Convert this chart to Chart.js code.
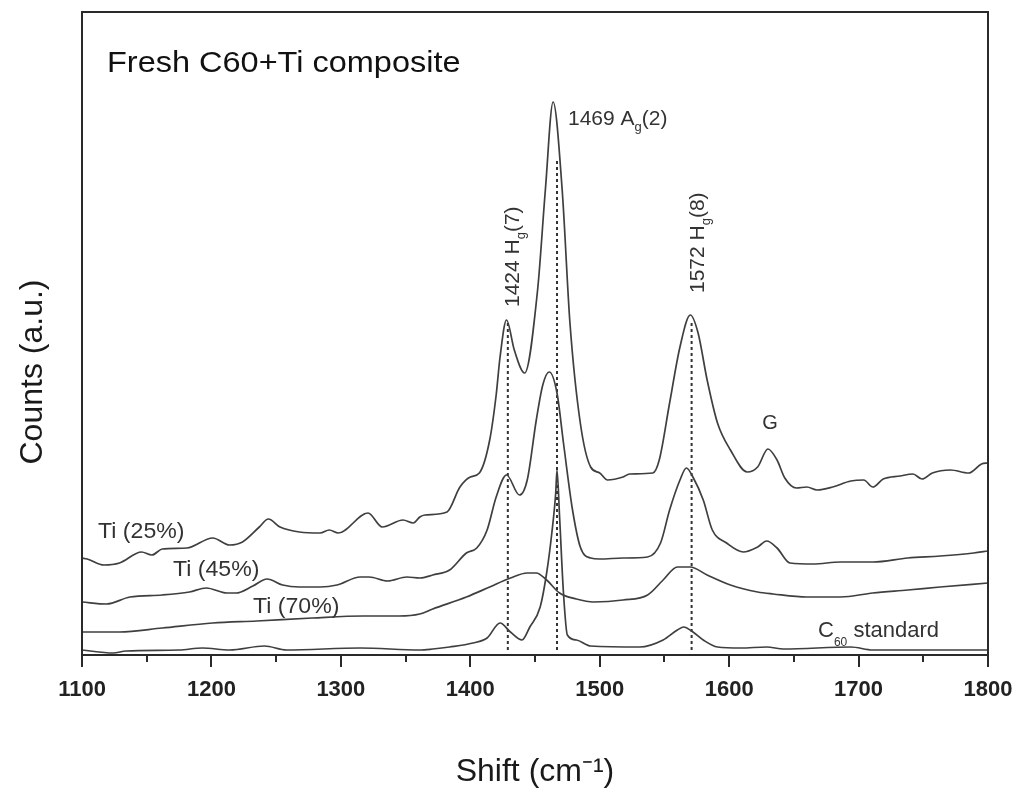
<!DOCTYPE html>
<html><head><meta charset="utf-8">
<script src="https://cdn.jsdelivr.net/npm/chart.js@4.4.1/dist/chart.umd.min.js"></script>
<style>html,body{margin:0;padding:0;background:#fff}#wrap{width:1018px;height:791px;position:relative}</style>
</head><body><div id="wrap"><canvas id="c"></canvas></div>
<script>
// ---- data (Raman shift in cm^-1, counts in a.u.) ----
const shiftTi25 = [1100,1104,1117,1129,1146,1154,1162,1181,1201,1214,1224,1237,1244,1253,1268,1284,1291,1298,1321,1332,1348,1356,1361,1365,1382,1392,1400,1407,1415,1420,1423,1428,1434,1442,1452,1458,1464,1471,1477,1485,1493,1500,1506,1518,1523,1541,1546,1554,1562,1570,1576,1583,1591,1601,1614,1622,1630,1637,1643,1652,1660,1668,1680,1694,1704,1711,1719,1732,1742,1749,1757,1771,1785,1795,1800];
const countsTi25 = [97,96,90,92,103,100,106,107,117,110,113,128,136,128,123,122,125,122,142,128,135,132,138,140,143,168,178,182,215,260,298,335,305,282,365,465,553,465,332,232,188,182,175,178,181,182,195,252,308,340,322,275,232,205,183,188,206,195,177,167,168,165,168,174,175,168,176,179,181,176,182,185,182,191,192];

const shiftTi45 = [1100,1119,1137,1162,1183,1196,1212,1219,1232,1243,1255,1268,1284,1297,1315,1322,1336,1351,1361,1371,1384,1397,1405,1413,1420,1428,1438,1444,1451,1456,1461,1467,1472,1479,1485,1493,1500,1518,1537,1547,1554,1562,1567,1572,1580,1587,1598,1611,1622,1629,1637,1647,1665,1686,1711,1738,1763,1789,1800];
const countsTi45 = [53,51,58,60,63,67,62,62,69,76,70,68,68,70,78,78,74,78,77,80,85,102,107,125,158,180,160,175,235,270,283,262,212,145,108,97,96,97,98,112,145,175,187,178,155,125,112,103,108,114,107,92,91,93,93,97,99,102,104];

const shiftTi70 = [1100,1129,1162,1201,1235,1278,1317,1345,1361,1371,1397,1415,1431,1444,1451,1459,1469,1482,1495,1518,1537,1549,1560,1570,1583,1601,1622,1634,1660,1686,1711,1738,1763,1800];
const countsTi70 = [23,23,27,32,34,37,39,39,41,46,58,68,77,82,82,75,62,56,53,55,60,75,88,88,80,70,63,61,58,58,62,65,68,72];

const shiftC60 = [1100,1124,1134,1175,1193,1214,1241,1258,1315,1361,1371,1384,1402,1413,1423,1431,1440,1446,1454,1459,1463,1466,1467,1469,1472,1475,1482,1493,1531,1549,1560,1565,1571,1580,1591,1609,1629,1642,1694,1711,1800];
const countsC60 = [5,2,4,5,7,5,9,5,7,5,6,8,12,17,32,23,15,28,48,82,122,162,185,138,62,20,15,9,8,15,25,28,24,15,8,7,8,6,8,5,5];

// peak markers (dashed lines): positions and heights
const peakShifts = [1429,1467,1571];
const peakTops = [332,495,333];
const peakBottom = 5;

const xTickValues = [1100,1200,1300,1400,1500,1600,1700,1800];

function pts(xs, ys){ return xs.map((x,i)=>({x:x, y:ys[i]})); }

const lineColor = '#3f3f3f';
const datasets = [
  {label:'Ti (25%)', data: pts(shiftTi25, countsTi25)},
  {label:'Ti (45%)', data: pts(shiftTi45, countsTi45)},
  {label:'Ti (70%)', data: pts(shiftTi70, countsTi70)},
  {label:'C60 standard', data: pts(shiftC60, countsC60)}
].map(d => Object.assign(d, {borderColor: lineColor, borderWidth: 1.7, pointRadius: 0, cubicInterpolationMode: 'monotone', fill: false}));

peakShifts.forEach((s,i) => {
  datasets.push({label:'peak '+s, data:[{x:s,y:peakBottom},{x:s,y:peakTops[i]}],
    borderColor:'#333', borderWidth:2, borderDash:[3,3], pointRadius:0, tension:0, fill:false});
});

function rich(ctx, parts){
  let x = 0;
  parts.forEach(p => {
    ctx.font = p.size + 'px "Liberation Sans", Arial, sans-serif';
    ctx.fillText(p.t, x, p.dy || 0);
    x += ctx.measureText(p.t).width;
  });
}

const decor = {
  id: 'decor',
  afterDraw(chart){
    const ctx = chart.ctx;
    const a = chart.chartArea;
    const xs = chart.scales.x, ys = chart.scales.y;
    ctx.save();
    // frame
    ctx.strokeStyle = '#2a2a2a';
    ctx.lineWidth = 2;
    ctx.strokeRect(a.left, a.top, a.right - a.left, a.bottom - a.top);
    // tick marks (outward)
    for (let v = 1100; v <= 1800; v += 50) {
      const px = Math.round(xs.getPixelForValue(v));
      const len = (v % 100 === 0) ? 12 : 7;
      ctx.beginPath();
      ctx.moveTo(px, a.bottom);
      ctx.lineTo(px, a.bottom + len);
      ctx.stroke();
    }
    // y-axis title
    ctx.fillStyle = '#1a1a1a';
    ctx.save();
    ctx.translate(33, 372);
    ctx.rotate(-Math.PI/2);
    ctx.textAlign = 'center';
    ctx.textBaseline = 'middle';
    ctx.font = '32px "Liberation Sans", Arial, sans-serif';
    ctx.fillText('Counts (a.u.)', 0, 0);
    ctx.restore();
    // panel title
    ctx.save();
    ctx.translate(a.left + 25, a.top + 60);
    ctx.scale(1.12, 1);
    ctx.textBaseline = 'alphabetic';
    ctx.font = '29px "Liberation Sans", Arial, sans-serif';
    ctx.fillStyle = '#111';
    ctx.fillText('Fresh C60+Ti composite', 0, 0);
    ctx.restore();

    ctx.fillStyle = '#333';
    ctx.textBaseline = 'alphabetic';
    ctx.textAlign = 'left';
    // 1469 Ag(2)
    ctx.save();
    ctx.translate(xs.getPixelForValue(1475.5), ys.getPixelForValue(530));
    rich(ctx, [{t:'1469 A', size:21},{t:'g', size:13, dy:6},{t:'(2)', size:21}]);
    ctx.restore();
    // 1424 Hg(7) rotated
    ctx.save();
    ctx.translate(xs.getPixelForValue(1437.6), ys.getPixelForValue(348));
    ctx.rotate(-Math.PI/2);
    rich(ctx, [{t:'1424 H', size:21},{t:'g', size:13, dy:6},{t:'(7)', size:21}]);
    ctx.restore();
    // 1572 Hg(8) rotated
    ctx.save();
    ctx.translate(xs.getPixelForValue(1580.6), ys.getPixelForValue(362));
    ctx.rotate(-Math.PI/2);
    rich(ctx, [{t:'1572 H', size:21},{t:'g', size:13, dy:6},{t:'(8)', size:21}]);
    ctx.restore();
    // G
    ctx.save();
    ctx.textAlign = 'center';
    ctx.textBaseline = 'middle';
    ctx.font = '20px "Liberation Sans", Arial, sans-serif';
    ctx.fillText('G', xs.getPixelForValue(1631.6), ys.getPixelForValue(232));
    ctx.restore();
    // series labels
    const lbl = (t, sx, cy) => {
      ctx.save();
      ctx.translate(xs.getPixelForValue(sx), ys.getPixelForValue(cy));
      ctx.scale(1.05, 1);
      ctx.textBaseline = 'middle';
      ctx.font = '22px "Liberation Sans", Arial, sans-serif';
      ctx.fillText(t, 0, 0);
      ctx.restore();
    };
    lbl('Ti (25%)', 1112.4, 123);
    lbl('Ti (45%)', 1170.3, 85);
    lbl('Ti (70%)', 1232.1, 48);
    // C60 standard
    ctx.save();
    ctx.translate(xs.getPixelForValue(1668.7), ys.getPixelForValue(18));
    rich(ctx, [{t:'C', size:22},{t:'60', size:12, dy:9},{t:' standard', size:22}]);
    ctx.restore();
    ctx.restore();
  }
};

new Chart(document.getElementById('c'), {
  type: 'line',
  data: { datasets: datasets },
  options: {
    responsive: true,
    maintainAspectRatio: false,
    devicePixelRatio: 1,
    animation: false,
    layout: { padding: { left: 0, right: 30, top: 12, bottom: 0 } },
    plugins: { legend: { display: false }, tooltip: { enabled: false } },
    scales: {
      x: {
        type: 'linear', min: 1100, max: 1800,
        afterBuildTicks: (s) => { s.ticks = xTickValues.map(v => ({value: v})); },
        afterFit: (s) => { s.height = 136; s.paddingLeft = 0; s.paddingRight = 0; },
        grid: { display: false, drawTicks: false },
        border: { display: false },
        ticks: { padding: 22, color: '#222', callback: (v) => String(v), font: { family: '"Liberation Sans", Arial, sans-serif', size: 22, weight: 'bold' }, maxRotation: 0, autoSkip: false },
        title: { display: true, text: 'Shift (cm\u207B\u00B9)', color: '#1a1a1a', padding: { top: 0, bottom: 0 }, font: { family: '"Liberation Sans", Arial, sans-serif', size: 32 } }
      },
      y: {
        type: 'linear', min: 0, max: 643,
        afterFit: (s) => { s.width = 82; },
        grid: { display: false, drawTicks: false },
        border: { display: false },
        ticks: { display: false }
      }
    }
  },
  plugins: [decor]
});
</script>
</body></html>
